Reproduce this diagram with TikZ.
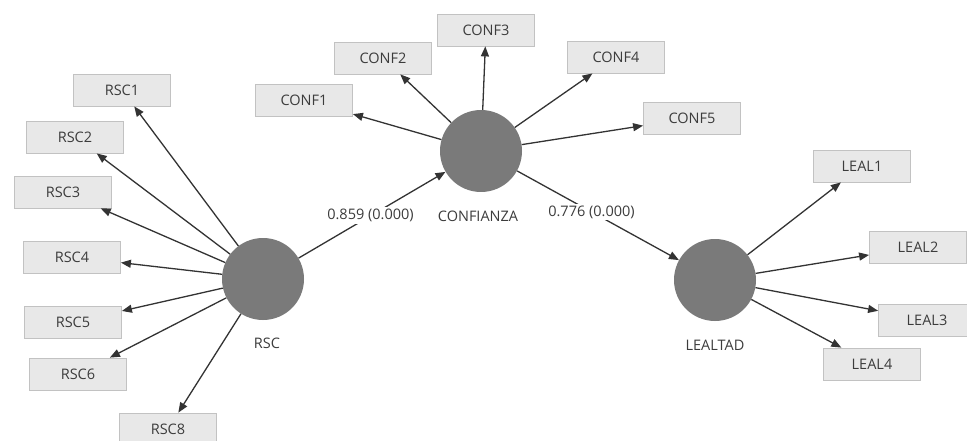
\documentclass[tikz,border=0pt]{standalone}
\usepackage{fontspec}
\setmainfont{Open Sans}
\usetikzlibrary{arrows.meta}
\definecolor{boxfill}{HTML}{E8E8E8}
\definecolor{boxline}{HTML}{C2C2C2}
\definecolor{lvfill}{HTML}{7A7A7A}
\definecolor{txt}{HTML}{3C3C3C}
\definecolor{edge}{HTML}{333333}
\tikzset{
  ind/.style={rectangle, draw=boxline, fill=boxfill, line width=0.8pt, minimum width=97pt, minimum height=32pt, inner sep=0pt, font=\fontsize{14.5}{17}\selectfont, text=txt},
  lv/.style={circle, fill=lvfill, minimum size=82pt, inner sep=0pt},
  lvlabel/.style={font=\fontsize{14.5}{17}\selectfont, text=txt},
  conn/.style={draw=edge, line width=1.3pt, -{Triangle[length=10pt,width=8pt]}},
  coef/.style={fill=white, inner sep=2pt, font=\fontsize{14.5}{17}\selectfont, text=txt}
}
\begin{document}
\begin{tikzpicture}[x=1pt,y=-1pt]
\useasboundingbox (0,0) rectangle (967,441);
\fill[white] (0,0) rectangle (967,441);
% latent variables
\node[lv] (rsc) at (263,279) {};
\node[lv] (conf) at (481,151) {};
\node[lv] (leal) at (715,280) {};
\node[lvlabel] (rscl) at (267,343) {RSC};
\node[lvlabel] (confl) at (478,216) {CONFIANZA};
\node[lvlabel] (leall) at (715,345) {LEALTAD};
% indicators RSC
\node[ind] (rsc1) at (122,90) {RSC1};
\node[ind] (rsc2) at (75,137) {RSC2};
\node[ind] (rsc3) at (63,192) {RSC3};
\node[ind] (rsc4) at (72,257) {RSC4};
\node[ind] (rsc5) at (73,322) {RSC5};
\node[ind] (rsc6) at (78,374) {RSC6};
\node[ind] (rsc8) at (168,429) {RSC8};
% indicators CONFIANZA
\node[ind] (conf1) at (304,100) {CONF1};
\node[ind] (conf2) at (383,58) {CONF2};
\node[ind] (conf3) at (486,30) {CONF3};
\node[ind] (conf4) at (616,57) {CONF4};
\node[ind] (conf5) at (692,118) {CONF5};
% indicators LEALTAD
\node[ind] (leal1) at (862,166) {LEAL1};
\node[ind] (leal2) at (918,247) {LEAL2};
\node[ind] (leal3) at (927,320) {LEAL3};
\node[ind] (leal4) at (872,364) {LEAL4};
% outer arrows
\foreach \t in {rsc1,rsc2,rsc3,rsc4,rsc5,rsc6,rsc8} \draw[conn] (rsc) -- (\t);
\foreach \t in {conf1,conf2,conf3,conf4,conf5} \draw[conn] (conf) -- (\t);
\foreach \t in {leal1,leal2,leal3,leal4} \draw[conn] (leal) -- (\t);
% structural paths
\draw[conn] (rsc) -- node[coef, pos=0.49] (p1) {0.859 (0.000)} (conf);
\draw[conn] (conf) -- node[coef, pos=0.46] (p2) {0.776 (0.000)} (leal);
\end{tikzpicture}
\end{document}
